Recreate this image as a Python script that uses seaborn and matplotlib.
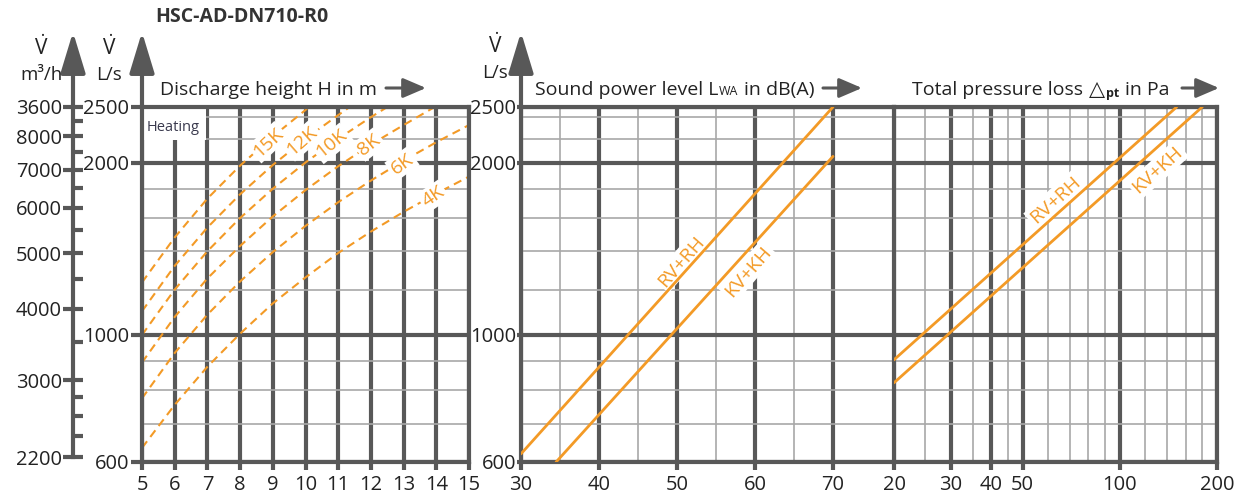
import numpy as np
import pandas as pd
import matplotlib
matplotlib.use("Agg")
import matplotlib.pyplot as plt
import seaborn as sns
from matplotlib.patches import Rectangle, FancyArrowPatch
from matplotlib.ticker import FixedLocator, FixedFormatter, NullFormatter

# ---------------- data ----------------
# air volume flow axis (L/s), logarithmic
flow_major = [600, 1000, 2000, 2500]
flow_minor = [700, 800, 900, 1200, 1400, 1600, 1800, 2200, 2400]

# secondary volume flow axis (m³/h)
m3h_major = [2200, 3000, 4000, 5000, 6000, 7000, 8000, 9000]
m3h_labels = ["2200", "3000", "4000", "5000", "6000", "7000", "8000", "3600"]
m3h_minor = [2400, 2600, 2800, 3500, 4500, 5500, 6500, 7500, 8500]

# heating: discharge height H (m) vs. air flow (L/s) per temperature difference
height_ticks = [5, 6, 7, 8, 9, 10, 11, 12, 13, 14, 15]
heat_labels = ["15K", "12K", "10K", "8K", "6K", "4K"]
h_15k = [5, 6, 7, 8, 9, 10, 10.1]
v_15k = [1235, 1480, 1730, 1975, 2220, 2470, 2500]
h_12k = [5, 6, 7, 8, 9, 10, 11, 11.35]
v_12k = [1100, 1320, 1540, 1760, 1980, 2200, 2420, 2500]
h_10k = [5, 6, 7, 8, 9, 10, 11, 12, 12.5]
v_10k = [1000, 1200, 1400, 1600, 1800, 2000, 2200, 2400, 2500]
h_8k = [5, 6, 7, 8, 9, 10, 11, 12, 13, 13.95]
v_8k = [895, 1075, 1255, 1430, 1610, 1790, 1970, 2150, 2325, 2500]
h_6k = [5, 6, 7, 8, 9, 10, 11, 12, 13, 14, 15]
v_6k = [775, 930, 1085, 1240, 1395, 1550, 1705, 1860, 2015, 2170, 2325]
h_4k = [5, 6, 7, 8, 9, 10, 11, 12, 13, 14, 15]
v_4k = [635, 755, 880, 1005, 1135, 1260, 1390, 1515, 1640, 1765, 1890]

# sound power level L_WA (dB(A))
sound_major = [30, 40, 50, 60, 70]
sound_minor = [35, 45, 55, 65]
variants = ["RV+RH", "KV+KH"]
lwa_rv_rh = [30, 70]
flow_lwa_rv_rh = [620, 2500]
lwa_kv_kh = [34.5, 70]
flow_lwa_kv_kh = [600, 2050]

# total pressure loss (Pa)
press_major = [20, 30, 40, 50, 100, 200]
press_minor = [25, 35, 45, 60, 70, 80, 90, 120, 140, 160, 180]
dp_rv_rh = [20, 150]
flow_dp_rv_rh = [905, 2500]
dp_kv_kh = [20, 180]
flow_dp_kv_kh = [825, 2500]

# ---------------- style ----------------
sns.set_style("white")
plt.rcParams["font.family"] = ["Open Sans", "DejaVu Sans"]
plt.rcParams["mathtext.fontset"] = "custom"
plt.rcParams["mathtext.rm"] = "Open Sans"
plt.rcParams["mathtext.it"] = "Open Sans:italic"
plt.rcParams["mathtext.bf"] = "Open Sans:bold"

DARK = "#585858"
LIGHT = "#a8a8a8"
ORANGE = "#f39a26"
TXT = "#222222"
LW_MAJ = 3.0
LW_MIN = 1.2
TICK_FS = 14.5

W, H = 1240, 498
fig = plt.figure(figsize=(W / 100, H / 100), dpi=100)
fig.patch.set_facecolor("white")


def box(x0, x1, ytop, ybot):
    return [x0 / W, (H - ybot) / H, (x1 - x0) / W, (ybot - ytop) / H]


def fpx(x, y):
    return x / W, 1 - y / H


def style_panel(ax):
    ax.set_yscale("log")
    ax.set_ylim(flow_major[0], flow_major[-1])
    ax.yaxis.set_major_locator(FixedLocator(flow_major))
    ax.yaxis.set_major_formatter(FixedFormatter([str(v) for v in flow_major]))
    ax.yaxis.set_minor_locator(FixedLocator(flow_minor))
    ax.yaxis.set_minor_formatter(NullFormatter())
    ax.set_axisbelow(True)
    ax.grid(which="major", axis="both", color=DARK, lw=LW_MAJ, solid_capstyle="butt")
    ax.grid(which="minor", axis="both", color=LIGHT, lw=LW_MIN)
    for s in ax.spines.values():
        s.set_color(DARK)
        s.set_linewidth(LW_MAJ)
    ax.tick_params(which="minor", length=0)
    ax.tick_params(axis="x", which="major", bottom=True, direction="out", length=6,
                   width=LW_MAJ, color=DARK, labelsize=TICK_FS, labelcolor=TXT, pad=3)
    ax.set_xlabel("")
    ax.set_ylabel("")


# ---------------- heating panel ----------------
ax_h = fig.add_axes(box(142, 469, 107, 462))
heat_df = pd.concat([
    pd.DataFrame({"H": hh, "flow": vv, "curve": lab})
    for lab, hh, vv in zip(heat_labels,
                           [h_15k, h_12k, h_10k, h_8k, h_6k, h_4k],
                           [v_15k, v_12k, v_10k, v_8k, v_6k, v_4k])
])
sns.lineplot(data=heat_df, x="H", y="flow", units="curve", estimator=None, sort=False,
             color=ORANGE, lw=1.5, linestyle="--", ax=ax_h, zorder=2)
for ln in ax_h.lines:
    ln.set_dashes((4, 2.6))
style_panel(ax_h)
ax_h.set_xlim(height_ticks[0], height_ticks[-1])
ax_h.xaxis.set_major_locator(FixedLocator(height_ticks))
ax_h.xaxis.set_major_formatter(FixedFormatter([str(v) for v in height_ticks]))
ax_h.xaxis.set_minor_locator(FixedLocator([]))
ax_h.tick_params(axis="y", which="major", left=True, direction="out", length=8,
                 width=LW_MAJ, color=DARK, labelsize=TICK_FS, labelcolor=TXT, pad=1)

# "Heating" tag in the upper-left cell
ax_h.add_patch(Rectangle((5, 2190), 1.95, 310, facecolor="white", edgecolor="none", zorder=1))
ax_h.text(5.15, 2300, "Heating", fontsize=10.5, color="#3a3a4e", va="center", ha="left", zorder=3)

heat_label_pos = [(8.85, 2170, 43), (9.9, 2185, 41), (10.8, 2160, 39),
                  (11.95, 2150, 38), (12.95, 1990, 36), (13.9, 1745, 34)]
for lab, (x, y, rot) in zip(heat_labels, heat_label_pos):
    ax_h.text(x, y, lab, fontsize=14, color=ORANGE, rotation=rot, ha="center", va="center",
              rotation_mode="anchor", zorder=3,
              bbox=dict(facecolor="white", edgecolor="none", pad=1.5))

# ---------------- sound power panel ----------------
ax_s = fig.add_axes(box(521, 894, 107, 462))
sound_df = pd.concat([
    pd.DataFrame({"L": lwa_rv_rh, "flow": flow_lwa_rv_rh, "variant": variants[0]}),
    pd.DataFrame({"L": lwa_kv_kh, "flow": flow_lwa_kv_kh, "variant": variants[1]}),
])
sns.lineplot(data=sound_df, x="L", y="flow", units="variant", estimator=None, sort=False,
             color=ORANGE, lw=2.0, ax=ax_s, zorder=4)
style_panel(ax_s)
ax_s.set_xlim(30, 30 + (894 - 521) / 7.8)
ax_s.xaxis.set_major_locator(FixedLocator(sound_major))
ax_s.xaxis.set_major_formatter(FixedFormatter([str(v) for v in sound_major]))
ax_s.xaxis.set_minor_locator(FixedLocator(sound_minor))
ax_s.xaxis.set_minor_formatter(NullFormatter())
ax_s.spines["right"].set_visible(False)
ax_s.tick_params(axis="y", which="major", left=True, direction="out", length=3,
                 width=LW_MAJ, color=DARK, labelsize=TICK_FS, labelcolor=TXT, pad=0.5)
ax_s.text(50.6, 1345, "RV+RH", fontsize=14, color=ORANGE, rotation=49, ha="center",
          va="center", rotation_mode="anchor", zorder=3,
          bbox=dict(facecolor="white", edgecolor="none", pad=1.5))
ax_s.text(59.1, 1290, "KV+KH", fontsize=14, color=ORANGE, rotation=49, ha="center",
          va="center", rotation_mode="anchor", zorder=3,
          bbox=dict(facecolor="white", edgecolor="none", pad=1.5))

# ---------------- pressure loss panel ----------------
ax_p = fig.add_axes(box(894, 1217, 107, 462))
press_df = pd.concat([
    pd.DataFrame({"dp": dp_rv_rh, "flow": flow_dp_rv_rh, "variant": variants[0]}),
    pd.DataFrame({"dp": dp_kv_kh, "flow": flow_dp_kv_kh, "variant": variants[1]}),
])
sns.lineplot(data=press_df, x="dp", y="flow", units="variant", estimator=None, sort=False,
             color=ORANGE, lw=2.0, ax=ax_p, zorder=4)
ax_p.set_xscale("log")
style_panel(ax_p)
ax_p.set_xlim(20, 200)
ax_p.xaxis.set_major_locator(FixedLocator(press_major))
ax_p.xaxis.set_major_formatter(FixedFormatter([str(v) for v in press_major]))
ax_p.xaxis.set_minor_locator(FixedLocator(press_minor))
ax_p.xaxis.set_minor_formatter(NullFormatter())
ax_p.tick_params(axis="y", which="both", length=0, labelleft=False)
ax_p.text(63, 1720, "RV+RH", fontsize=14, color=ORANGE, rotation=42, ha="center",
          va="center", rotation_mode="anchor", zorder=3,
          bbox=dict(facecolor="white", edgecolor="none", pad=1.5))
ax_p.text(131, 1940, "KV+KH", fontsize=14, color=ORANGE, rotation=42, ha="center",
          va="center", rotation_mode="anchor", zorder=3,
          bbox=dict(facecolor="white", edgecolor="none", pad=1.5))

# ---------------- m³/h axis ----------------
ax_m = fig.add_axes(box(73, 74, 107, 462))
ax_m.set_yscale("log")
ax_m.set_ylim(flow_major[0] * 3.6, flow_major[-1] * 3.6)
ax_m.yaxis.set_major_locator(FixedLocator(m3h_major))
ax_m.yaxis.set_major_formatter(FixedFormatter(m3h_labels))
ax_m.yaxis.set_minor_locator(FixedLocator(m3h_minor))
ax_m.yaxis.set_minor_formatter(NullFormatter())
ax_m.set_xticks([])
for k in ("top", "right", "bottom"):
    ax_m.spines[k].set_visible(False)
ax_m.spines["left"].set_color(DARK)
ax_m.spines["left"].set_linewidth(LW_MAJ)
ax_m.spines["left"].set_bounds(m3h_major[0], m3h_major[-1])
ax_m.patch.set_alpha(0)
ax_m.tick_params(axis="y", which="major", left=True, direction="inout", length=14,
                 width=LW_MAJ, color=DARK, labelsize=TICK_FS, labelcolor=TXT, pad=1)
ax_m.tick_params(axis="y", which="minor", left=True, direction="in", length=7,
                 width=LW_MAJ, color=DARK)

# ---------------- axis arrows ----------------
for x in (73, 142, 521):
    fig.add_artist(FancyArrowPatch(
        fpx(x, 108), fpx(x, 32), transform=fig.transFigure,
        arrowstyle="-|>,head_length=1.25,head_width=0.38", mutation_scale=20,
        color=DARK, lw=LW_MAJ, shrinkA=0, shrinkB=0))

for x0, x1 in ((386, 426), (823, 862), (1182, 1219)):
    fig.add_artist(FancyArrowPatch(
        fpx(x0, 88), fpx(x1, 88), transform=fig.transFigure,
        arrowstyle="-|>,head_length=0.7,head_width=0.3", mutation_scale=20,
        color=DARK, lw=2.2, shrinkA=0, shrinkB=0))

# ---------------- titles and axis captions ----------------
fig.text(*fpx(155, 17), "HSC-AD-DN710-R0", fontsize=14, fontweight="bold", color="#333333",
         va="center", ha="left")
for x, yv, unit in ((41, 48, "m³/h"), (109, 48, "L/s"), (495, 46, "L/s")):
    fig.text(*fpx(x, yv), r"$\dot{\mathrm{V}}$", fontsize=15, color=TXT, va="center", ha="center")
    fig.text(*fpx(x, yv + 27), unit, fontsize=13.5, color=TXT, va="center", ha="center")

renderer = fig.canvas.get_renderer()


def text_run(x, y_base, parts):
    """Place consecutive text pieces on one baseline (figure pixel coordinates)."""
    for s, size, weight, dy, gap, fam in parts:
        t = fig.text(*fpx(x, y_base - dy), s, fontsize=size, fontweight=weight,
                     color=TXT, va="baseline", ha="left", family=fam)
        bb = t.get_window_extent(renderer)
        x = bb.x1 + gap


OS = ["Open Sans", "DejaVu Sans"]
text_run(160, 95, [("Discharge height H in m", 14, "normal", 0, 0, OS)])
text_run(535, 95, [("Sound power level L", 14, "normal", 0, 0, OS),
                   ("WA", 9, "normal", 0, 6, OS),
                   ("in dB(A)", 14, "normal", 0, 0, OS)])
text_run(912, 95, [("Total pressure loss", 14, "normal", 0, 6, OS),
                   ("△", 15, "normal", 0, 1, ["DejaVu Sans"]),
                   ("pt", 9, "bold", -2, 6, OS),
                   ("in Pa", 14, "normal", 0, 0, OS)])

fig.savefig("out.png", dpi=100, facecolor="white")
